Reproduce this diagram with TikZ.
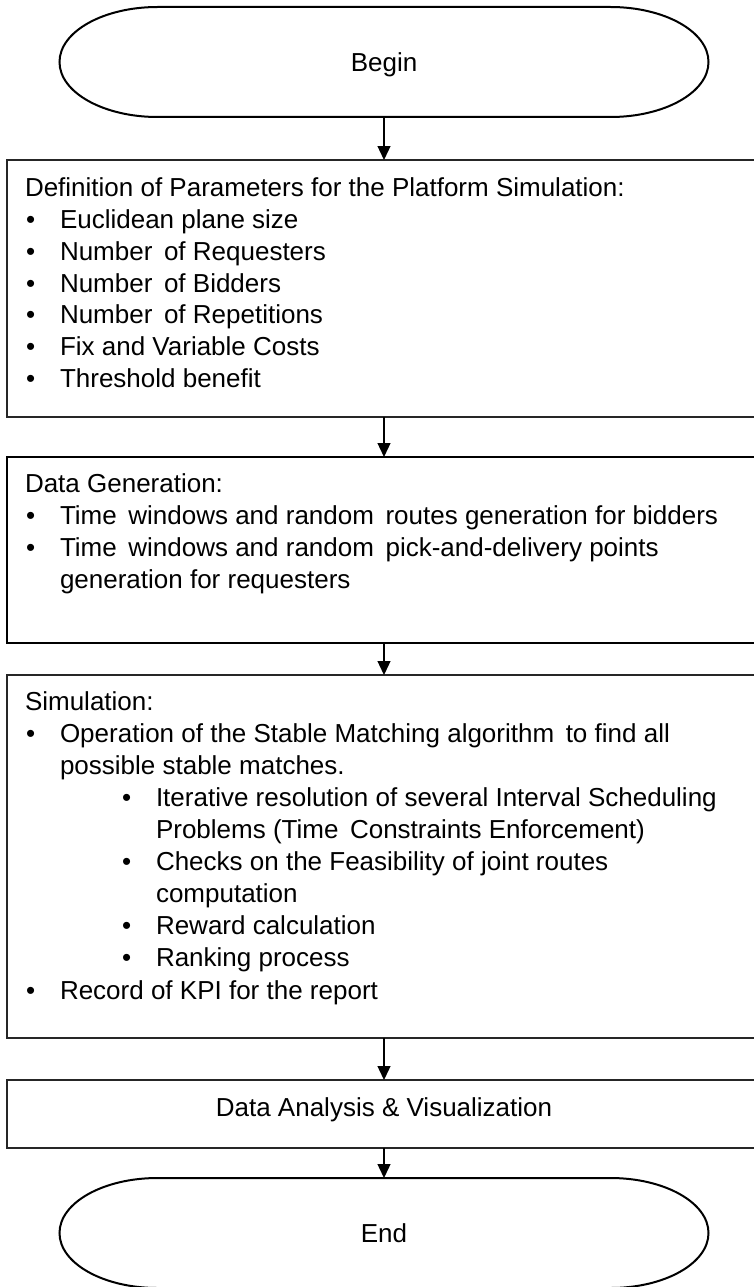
\documentclass[tikz,border=0pt]{standalone}
\usepackage{fontspec}
\setmainfont{Liberation Sans}
\usetikzlibrary{arrows.meta}
\begin{document}
\begin{tikzpicture}[x=1pt,y=-1pt,
  every node/.style={inner sep=0pt, outer sep=0pt},
  txt/.style={anchor=base west, font=\fontsize{26}{32}\selectfont},
  ctxt/.style={anchor=base, font=\fontsize{26}{32}\selectfont},
  frame/.style={minimum width=754pt},
  stepbox/.style={frame, draw=black!85, line width=1.3pt},
  heavybox/.style={frame, draw=black, line width=2.6pt},
  termbox/.style={minimum width=649pt, minimum height=110pt},
  term/.style={draw=black, line width=2pt},
  flow/.style={draw=black, line width=1.3pt, -{Triangle[width=13pt,length=14pt]}}
]
\useasboundingbox (0,0) rectangle (753,1287);
\fill[white] (0,0) rectangle (753,1287);

% terminal outline: straight top and bottom, half-ellipse ends
\newcommand\terminal[1]{%
  \draw[term] ([xshift=98pt]#1.north west) -- ([xshift=-98pt]#1.north east)
    arc[start angle=90, end angle=-90, x radius=98pt, y radius=55pt]
    -- ([xshift=98pt]#1.south west)
    arc[start angle=270, end angle=90, x radius=98pt, y radius=55pt] -- cycle;}

% ---- Begin ----
\node[termbox] (begin) at (384,62) {};
\terminal{begin}
\node[ctxt] (begintxt) at (384,72) {Begin};

% ---- parameters ----
\node[stepbox, minimum height=257pt] (def) at (384,288.5) {};
\node[txt] (d0) at (25,196) {Definition of Parameters for the Platform Simulation:};
\node[txt] (d1b) at (26,228) {•}; \node[txt] (d1) at (60,228) {Euclidean plane size};
\node[txt] (d2b) at (26,260) {•}; \node[txt] (d2) at (60,260) {Number\, of Requesters};
\node[txt] (d3b) at (26,292) {•}; \node[txt] (d3) at (60,292) {Number\, of Bidders};
\node[txt] (d4b) at (26,323) {•}; \node[txt] (d4) at (60,323) {Number\, of Repetitions};
\node[txt] (d5b) at (26,355) {•}; \node[txt] (d5) at (60,355) {Fix and Variable Costs};
\node[txt] (d6b) at (26,387) {•}; \node[txt] (d6) at (60,387) {Threshold benefit};

% ---- data generation ----
\node[heavybox, minimum height=186pt] (gen) at (384,550) {};
\node[txt] (g0) at (25,492) {Data Generation:};
\node[txt] (g1b) at (26,524) {•}; \node[txt] (g1) at (60,524) {Time\, windows and random\, routes generation for bidders};
\node[txt] (g2b) at (26,556) {•}; \node[txt] (g2) at (60,556) {Time\, windows and random\, pick-and-delivery points};
\node[txt] (g3) at (60,588) {generation for requesters};

% ---- simulation ----
\node[stepbox, minimum height=363pt] (sim) at (384,856.5) {};
\node[txt] (s0) at (25,710) {Simulation:};
\node[txt] (s1b) at (26,742) {•}; \node[txt] (s1) at (60,742) {Operation of the Stable Matching algorithm\, to find all};
\node[txt] (s2) at (60,774) {possible stable matches.};
\node[txt] (s3b) at (122,806) {•}; \node[txt] (s3) at (156,806) {Iterative resolution of several Interval Scheduling};
\node[txt] (s4) at (156,838) {Problems (Time\, Constraints Enforcement)};
\node[txt] (s5b) at (122,870) {•}; \node[txt] (s5) at (156,870) {Checks on the Feasibility of joint routes};
\node[txt] (s6) at (156,902) {computation};
\node[txt] (s7b) at (122,934) {•}; \node[txt] (s7) at (156,934) {Reward calculation};
\node[txt] (s8b) at (122,966) {•}; \node[txt] (s8) at (156,966) {Ranking process};
\node[txt] (s9b) at (26,999) {•}; \node[txt] (s9) at (60,999) {Record of KPI for the report};

% ---- analysis ----
\node[stepbox, minimum height=68pt] (ana) at (384,1114) {};
\node[ctxt] (anatxt) at (384,1116) {Data Analysis \& Visualization};

% ---- End ----
\node[termbox] (end) at (384,1233) {};
\terminal{end}
\node[ctxt] (endtxt) at (384,1242) {End};

% ---- connectors ----
\draw[flow] (begin.south) -- (def.north);
\draw[flow] (def.south) -- (gen.north);
\draw[flow] (gen.south) -- (sim.north);
\draw[flow] (sim.south) -- (ana.north);
\draw[flow] (ana.south) -- (end.north);
\end{tikzpicture}
\end{document}
